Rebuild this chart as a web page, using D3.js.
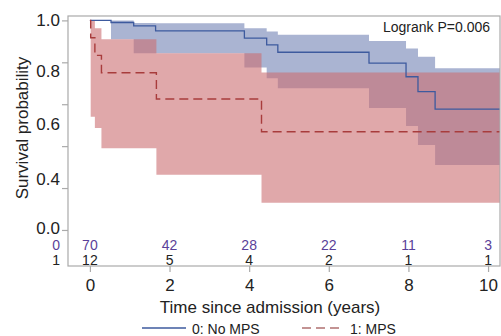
<!DOCTYPE html>
<html>
<head>
<meta charset="utf-8">
<script src="https://cdn.jsdelivr.net/npm/d3@7"></script>
<style>
body{margin:0;background:#fff;}
svg{display:block;font-family:'Liberation Sans',Arial,sans-serif;}
</style>
</head>
<body>
<script>
// group 0: No MPS (KM steps + 95% CI)
var times0 = [0, 0.53, 1.1, 1.65, 3.88, 4.44, 4.72, 7.01, 7.94, 8.24, 8.67];
var surv0  = [1, 0.990, 0.974, 0.950, 0.915, 0.883, 0.848, 0.796, 0.731, 0.660, 0.577];
var upper0 = [1, 0.999, 0.988, 0.986, 0.963, 0.947, 0.931, 0.902, 0.866, 0.826, 0.772];
var lower0 = [1, 0.910, 0.843, 0.843, 0.775, 0.724, 0.676, 0.582, 0.496, 0.406, 0.310];

// group 1: MPS
var times1 = [0, 0.02, 0.125, 0.29, 1.67, 4.31];
var surv1  = [1, 0.917, 0.833, 0.750, 0.625, 0.469];
var upper1 = [1, 0.999, 0.963, 0.910, 0.843, 0.751];
var lower1 = [1, 0.540, 0.486, 0.390, 0.263, 0.130];

var endTime = 10.3;

var riskTimes = [0, 2, 4, 6, 8, 10];
var risk0 = [70, 42, 28, 22, 11, 3];
var risk1 = [12, 5, 4, 2, 1, 1];

var yTicks = [0, 0.2, 0.4, 0.6, 0.8, 1];
var yTickLabels = ['0.0', '', '0.4', '0.6', '0.8', '1.0'];
var xTicks = [0, 2, 4, 6, 8, 10];

var W = 501, H = 336;
var margin = {left:68, top:16, right:1, bottom:70};
var width = W - margin.left - margin.right;
var height = H - margin.top - margin.bottom;

var x = d3.scaleLinear().domain([-0.55, 10.3]).range([0, width]);
var y = d3.scaleLinear().domain([-0.172, 1.021]).range([height, 0]);

var svg = d3.select('body').append('svg').attr('width', W).attr('height', H);
var g = svg.append('g').attr('transform', `translate(${margin.left},${margin.top})`);

function rows(t, s, up, lo){
	var r = t.map((d,i)=>({t:d, s:s[i], up:up[i], lo:lo[i]}));
	r.push({t:endTime, s:s[s.length-1], up:up[up.length-1], lo:lo[lo.length-1]});
	return r;
}
var g0 = rows(times0, surv0, upper0, lower0);
var g1 = rows(times1, surv1, upper1, lower1);

var band = d3.area().curve(d3.curveStepAfter)
	.x(d=>x(d.t)).y0(d=>y(d.lo)).y1(d=>y(d.up));
var line = d3.line().curve(d3.curveStepAfter)
	.x(d=>x(d.t)).y(d=>y(d.s));

g.append('path').attr('d', band(g0.slice(1))).attr('fill', '#aab4d2');
g.append('path').attr('d', band(g1.slice(1))).attr('fill', 'rgb(203,110,113)').attr('fill-opacity', 0.6);

g.append('path').attr('d', line(g0)).attr('fill', 'none')
	.attr('stroke', '#3d5a9e').attr('stroke-width', 1.3);
g.append('path').attr('d', line(g1)).attr('fill', 'none')
	.attr('stroke', '#a83c3c').attr('stroke-width', 1.4).attr('stroke-dasharray', '9,5');

// frame
g.append('rect').attr('width', width).attr('height', height)
	.attr('fill', 'none').attr('stroke', '#aaa').attr('stroke-width', 1.2);

// y axis
var labelShift = {1:0, 0.8:9, 0.6:20, 0.4:33, 0.2:0, 0:-2};
var yAxis = g.append('g')
	.call(d3.axisLeft(y).tickValues(yTicks).tickSize(6).tickPadding(2)
		.tickFormat((d,i)=>yTickLabels[i]));
yAxis.select('.domain').remove();
yAxis.selectAll('line').attr('stroke', '#aaa').attr('stroke-width', 1.2);
yAxis.selectAll('text').attr('font-size', 17).attr('fill', '#222')
	.attr('font-family', 'Liberation Sans, Arial, sans-serif')
	.attr('transform', d=>`translate(0,${labelShift[d]})`);

// x axis
var xAxis = g.append('g').attr('transform', `translate(0,${height})`)
	.call(d3.axisBottom(x).tickValues(xTicks).tickSize(6).tickPadding(7));
xAxis.select('.domain').remove();
xAxis.selectAll('line').attr('stroke', '#aaa').attr('stroke-width', 1.2);
xAxis.selectAll('text').attr('font-size', 17).attr('fill', '#222')
	.attr('font-family', 'Liberation Sans, Arial, sans-serif');

// number at risk table
var riskRows = [{vals:risk0, lab:'0', col:'#5a3f99', yy:234}, {vals:risk1, lab:'1', col:'#222', yy:249}];
riskRows.forEach(r=>{
	g.selectAll(null).data(r.vals).enter().append('text')
		.attr('x', (d,i)=>x(riskTimes[i])).attr('y', r.yy)
		.attr('text-anchor', 'middle').attr('font-size', 14).attr('fill', r.col)
		.text(d=>d);
	g.append('text').attr('x', -8).attr('y', r.yy)
		.attr('text-anchor', 'end').attr('font-size', 14).attr('fill', r.col)
		.text(r.lab);
});

g.append('text').attr('x', width - 10).attr('y', 16)
	.attr('text-anchor', 'end').attr('font-size', 14).attr('fill', '#222')
	.text('Logrank P=0.006');

// titles
svg.append('text').attr('x', 270).attr('y', 313)
	.attr('text-anchor', 'middle').attr('font-size', 17).attr('fill', '#222')
	.text('Time since admission (years)');
svg.append('text').attr('transform', 'translate(28,128) rotate(-90)')
	.attr('text-anchor', 'middle').attr('font-size', 17).attr('fill', '#222')
	.text('Survival probability');

// legend
var leg = svg.append('g');
leg.append('line').attr('x1', 142).attr('x2', 186).attr('y1', 328).attr('y2', 328)
	.attr('stroke', '#3d5a9e').attr('stroke-width', 1.3);
leg.append('text').attr('x', 192).attr('y', 334).attr('font-size', 14).attr('fill', '#222').text('0: No MPS');
leg.append('line').attr('x1', 302).attr('x2', 343).attr('y1', 328).attr('y2', 328)
	.attr('stroke', '#b07070').attr('stroke-width', 1.4).attr('stroke-dasharray', '9,5');
leg.append('text').attr('x', 350).attr('y', 334).attr('font-size', 14).attr('fill', '#222').text('1: MPS');
</script>
</body>
</html>
